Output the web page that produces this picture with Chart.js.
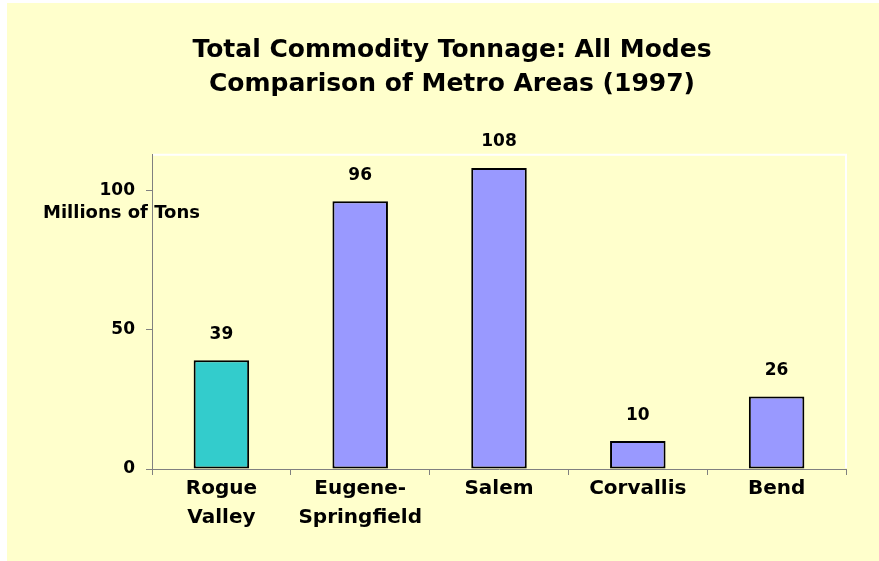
<!DOCTYPE html>
<html>
<head>
<meta charset="utf-8">
<script src="https://cdn.jsdelivr.net/npm/chart.js@4"></script>
<style>
  html, body { margin: 0; padding: 0; background: #fff; }
  #wrap { position: absolute; left: 7px; top: 3px; width: 872px; height: 558px; background: #ffffcc; }
</style>
</head>
<body>
<div id="wrap"><canvas id="tonnage"></canvas></div>
<script>
// ===== Metro tonnage chart =====
const titleLines = ['Total Commodity Tonnage: All Modes', 'Comparison of Metro Areas (1997)'];
const metroAreas = [['Rogue', 'Valley'], ['Eugene-', 'Springfield'], 'Salem', 'Corvallis', 'Bend'];
const tonnage = [39, 96, 108, 10, 26];
const yTicks = [0, 50, 100];
const yAxisLabel = 'Millions of Tons';

const barColors = ['#33cccc', '#9999ff', '#9999ff', '#9999ff', '#9999ff'];
const FONT = "'DejaVu Sans', sans-serif";

Chart.defaults.color = '#000';

// value labels, axis caption and the white plot edge
const extras = {
  id: 'extras',
  beforeDatasetsDraw(chart) {
    const { ctx, chartArea: a } = chart;
    ctx.save();
    ctx.strokeStyle = '#fff';
    ctx.lineWidth = 2;
    ctx.beginPath();
    ctx.moveTo(a.left + 1, a.top);
    ctx.lineTo(a.right, a.top);
    ctx.lineTo(a.right, a.bottom - 1);
    ctx.stroke();
    ctx.restore();
  },
  afterDatasetsDraw(chart) {
    const { ctx, chartArea: a, scales: { y } } = chart;
    ctx.save();
    ctx.fillStyle = '#000';
    ctx.font = 'bold 17px ' + FONT;
    ctx.textAlign = 'center';
    ctx.textBaseline = 'middle';
    chart.getDatasetMeta(0).data.forEach((bar, i) => {
      ctx.fillText(String(tonnage[i]), bar.x, bar.y - 26);
    });
    ctx.font = 'bold 18px ' + FONT;
    ctx.textAlign = 'left';
    ctx.fillText(yAxisLabel, a.left - 109, y.getPixelForValue(100) + 23);
    ctx.restore();
  }
};

new Chart(document.getElementById('tonnage'), {
  type: 'bar',
  data: {
    labels: metroAreas,
    datasets: [{
      data: tonnage,
      backgroundColor: barColors,
      borderColor: '#000',
      borderWidth: 2,
      borderSkipped: false,
      categoryPercentage: 1,
      barPercentage: 0.4
    }]
  },
  options: {
    responsive: true,
    maintainAspectRatio: false,
    animation: false,
    layout: { padding: { left: 51, right: 33, top: 0, bottom: 0 } },
    plugins: {
      legend: { display: false },
      tooltip: { enabled: false },
      title: {
        display: true,
        text: titleLines,
        color: '#000',
        font: { family: FONT, size: 25, weight: 'bold', lineHeight: 1.376 },
        padding: { top: 30, bottom: 53 }
      }
    },
    scales: {
      x: {
        grid: { display: true, drawOnChartArea: false, drawTicks: true, tickLength: 6, color: '#808080', offset: true },
        border: { display: true, color: '#808080', width: 1 },
        ticks: { font: { family: FONT, size: 20, weight: 'bold', lineHeight: 1.45 }, padding: -1, maxRotation: 0, autoSkip: false },
        afterFit: s => { s.height = 92; }
      },
      y: {
        min: 0,
        max: 112.7,
        grid: { display: true, drawOnChartArea: false, drawTicks: true, tickLength: 6, color: '#808080' },
        border: { display: true, color: '#808080', width: 1 },
        ticks: { font: { family: FONT, size: 17, weight: 'bold' }, padding: 11, stepSize: 50 },
        afterBuildTicks: s => { s.ticks = yTicks.map(v => ({ value: v })); },
        afterFit: s => { s.width = 94; }
      }
    }
  },
  plugins: [extras]
});
</script>
</body>
</html>
